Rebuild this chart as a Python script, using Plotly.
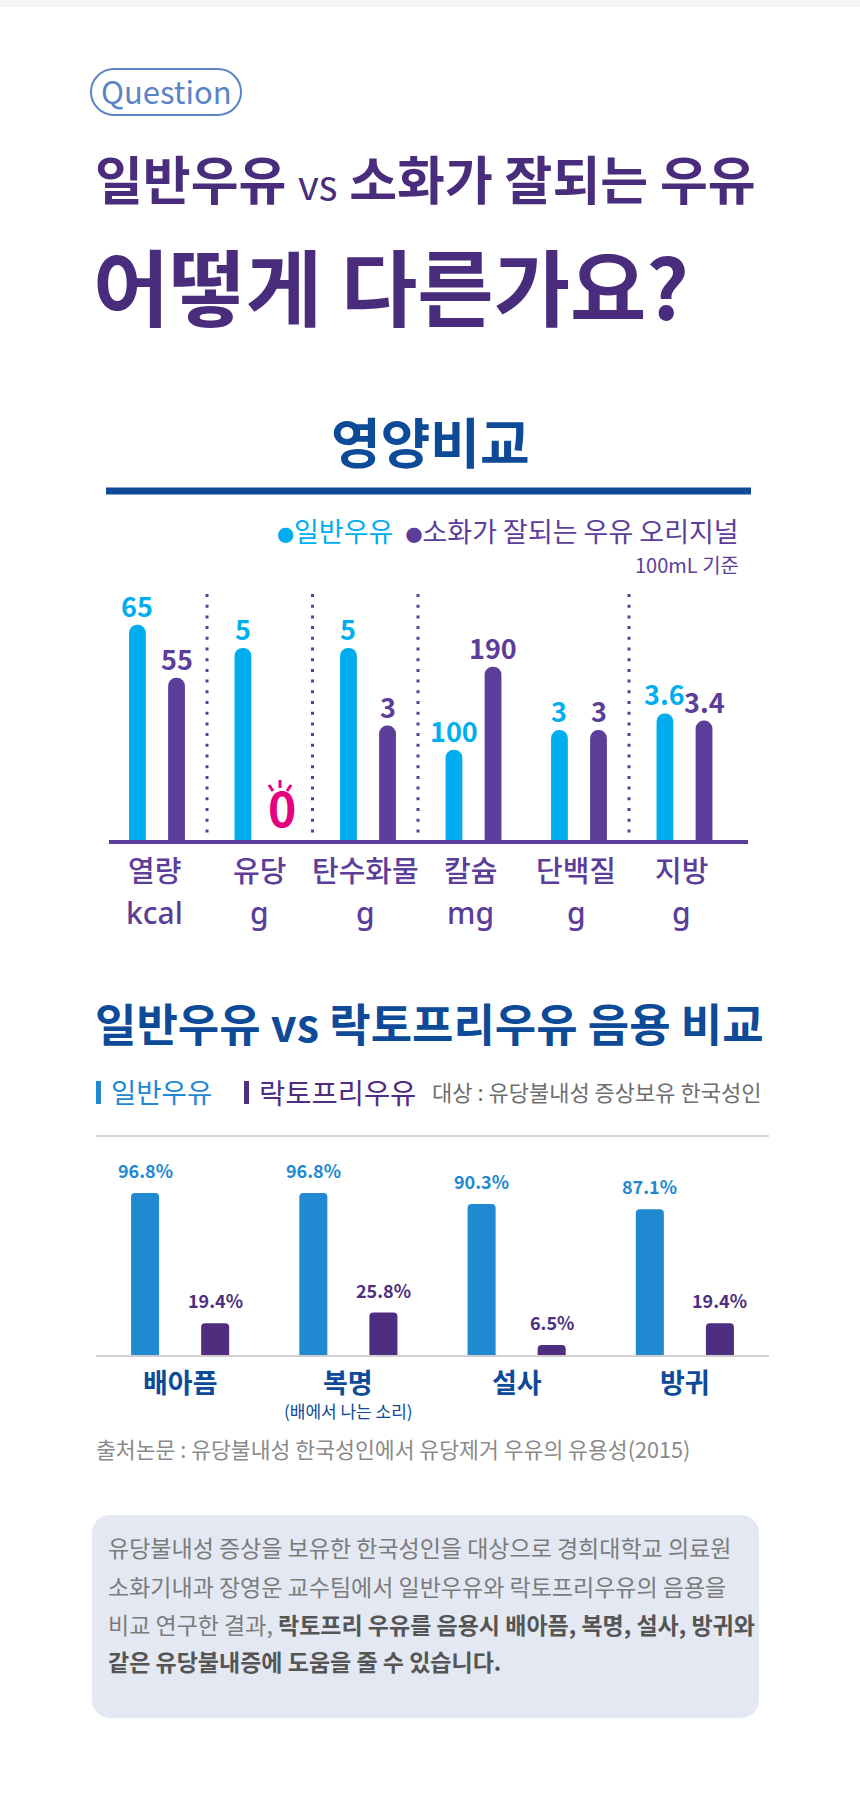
import plotly.graph_objects as go

W, H = 860, 1806
def X(px): return px / W
def Y(py): return 1 - py / H

KR = "Noto Sans CJK KR, Noto Sans, sans-serif"
LATIN = "Noto Sans, Noto Sans CJK KR, sans-serif"

# ---------------- data ----------------
nutrients = ["열량", "유당", "탄수화물", "칼슘", "단백질", "지방"]
units = ["kcal", "g", "g", "mg", "g", "g"]
series1 = ["일반우유", "소화가 잘되는 우유 오리지널"]
regular_milk = [65, 5, 5, 100, 3, 3.6]
easy_milk = [55, 0, 3, 190, 3, 3.4]
# per-nutrient value axis ranges (each nutrient has its own scale in the original)
c1_ranges = [[24, 71.2], [0, 6.44], [0, 6.44], [0, 271], [0, 6.7], [0, 7.0]]

symptoms = ["배아픔", "복명", "설사", "방귀"]
symptom_notes = ["", "(배에서 나는 소리)", "", ""]
series2 = ["일반우유", "락토프리우유"]
regular_pct = [96.8, 96.8, 90.3, 87.1]
lactose_free_pct = [19.4, 25.8, 6.5, 19.4]

# ---------------- colours ----------------
C1_BLUE = "#00aeef"
C1_PURPLE = "#5c3d99"
PINK = "#e5007e"
HEAD_PURPLE = "#4a2c7c"
NAVY = "#0d4a98"
C2_BLUE = "#2189d1"
C2_PURPLE = "#4f2d7f"

fig = go.Figure()
shapes = []
annotations = []

def note(text, x, y, size, color, xanchor="center", yanchor="middle", weight=None, **kw):
    f = dict(family=KR, size=size, color=color)
    if weight:
        f["weight"] = weight
    d = dict(text=text, x=x, y=y, xref="paper", yref="paper", xanchor=xanchor, yanchor=yanchor,
             showarrow=False, font=f)
    d.update(kw)
    annotations.append(d)

def rrect(x0, y0, x1, y1, r):
    k = 0.5523 * r
    pts = [
        ("M", [(x0 + r, y0)]),
        ("L", [(x1 - r, y0)]),
        ("C", [(x1 - r + k, y0), (x1, y0 + r - k), (x1, y0 + r)]),
        ("L", [(x1, y1 - r)]),
        ("C", [(x1, y1 - r + k), (x1 - r + k, y1), (x1 - r, y1)]),
        ("L", [(x0 + r, y1)]),
        ("C", [(x0 + r - k, y1), (x0, y1 - r + k), (x0, y1 - r)]),
        ("L", [(x0, y0 + r)]),
        ("C", [(x0, y0 + r - k), (x0 + r - k, y0), (x0 + r, y0)]),
    ]
    s = ""
    for cmd, ps in pts:
        s += cmd + " " + " ".join(f"{X(a):.5f},{Y(b):.5f}" for a, b in ps) + " "
    return s + "Z"

# top band
shapes.append(dict(type="rect", xref="paper", yref="paper", x0=0, x1=1, y0=Y(7), y1=1,
                   fillcolor="#f4f4f4", line_width=0, layer="below"))

# Question pill
shapes.append(dict(type="path", xref="paper", yref="paper", path=rrect(91, 69, 241, 115, 23),
                   line=dict(color="#5a84c6", width=2), fillcolor="white"))
note("Question", X(166), Y(91), 31, "#5a84c6")

# headlines
note("<b>일반우유</b> <span style='font-size:40px'>vs</span> <b>소화가 잘되는 우유</b>",
     X(93), Y(177), 52, HEAD_PURPLE, xanchor="left")
note("<b>어떻게 다른가요?</b>", X(91), Y(284), 83, HEAD_PURPLE, xanchor="left")

# section 1 title
note("<b>영양비교</b>", X(430), Y(440), 54, NAVY)
shapes.append(dict(type="line", xref="paper", yref="paper", x0=X(106), x1=X(751), y0=Y(491), y1=Y(491),
                   line=dict(color=NAVY, width=7)))

# legend 1
note((f"<span style='color:{C1_BLUE}'><span style='font-size:17px'>●</span>{series1[0]}</span>  "
      f"<span style='color:{C1_PURPLE}'><span style='font-size:17px'>●</span>{series1[1]}</span>"),
     X(741), Y(530), 27, C1_PURPLE, xanchor="right")
note("100mL 기준", X(741), Y(564), 20, C1_PURPLE, xanchor="right")

# ---------------- chart 1 (one small subplot per nutrient) ----------------
G1_LEFT, G1_STEP = 101.5, 105.5
BASE1, TOP1 = 842, 592
axes = {}
for i in range(6):
    xa = "xaxis" if i == 0 else f"xaxis{i+1}"
    ya = "yaxis" if i == 0 else f"yaxis{i+1}"
    xr = "x" if i == 0 else f"x{i+1}"
    yr = "y" if i == 0 else f"y{i+1}"
    x0 = G1_LEFT + G1_STEP * i
    axes[xa] = dict(domain=[X(x0), X(x0 + G1_STEP)], anchor=yr, range=[-0.92, 1.78],
                    visible=False, fixedrange=True, type="category")
    axes[ya] = dict(domain=[Y(BASE1), Y(TOP1)], anchor=xr, range=c1_ranges[i],
                    visible=False, fixedrange=True)
    vals = [regular_milk[i], easy_milk[i]]
    fig.add_trace(go.Bar(x=series1, y=vals, xaxis=xr, yaxis=yr, width=0.43,
                         marker=dict(color=[C1_BLUE, C1_PURPLE], cornerradius=8, line_width=0),
                         showlegend=False, hoverinfo="skip"))
    for j, v in enumerate(vals):
        if v == 0:
            annotations.append(dict(text="<b>0</b>", x=series1[j], y=v, xref=xr, yref=yr,
                                    yanchor="bottom", yshift=-1, showarrow=False,
                                    font=dict(family=KR, size=48, color=PINK)))
            # little sparks above the zero
            k = (BASE1 - TOP1) / (c1_ranges[i][1] - c1_ranges[i][0])
            for (dx0, dy0, dx1, dy1) in [(-13, 57, -9, 51), (-2, 62, -2, 54), (5, 51, 9, 57)]:
                shapes.append(dict(type="line", xref=xr, yref=yr,
                                   x0=j + dx0 / 39, x1=j + dx1 / 39, y0=dy0 / k, y1=dy1 / k,
                                   line=dict(color=PINK, width=3)))
        else:
            annotations.append(dict(text=f"<b>{v:g}</b>", x=series1[j], y=v, xref=xr, yref=yr,
                                    yanchor="bottom", yshift=-2, showarrow=False,
                                    font=dict(family=KR, size=27,
                                              color=C1_BLUE if j == 0 else C1_PURPLE)))
    annotations.append(dict(text=nutrients[i], x=0.5, y=Y(869),
                            xref=f"{xr} domain", yref="paper", xanchor="center",
                            yanchor="middle", showarrow=False,
                            font=dict(family=KR, size=29, color=C1_PURPLE, weight=500)))
    annotations.append(dict(text=units[i], x=0.5, y=Y(912),
                            xref=f"{xr} domain", yref="paper", xanchor="center",
                            yanchor="middle", showarrow=False,
                            font=dict(family=LATIN, size=30, color=C1_PURPLE, weight=500)))
    if i < 5 and i != 3:
        xs = x0 + G1_STEP
        shapes.append(dict(type="line", xref="paper", yref="paper", x0=X(xs), x1=X(xs),
                           y0=Y(594), y1=Y(836), line=dict(color=C1_PURPLE, width=3, dash="3px,7.7px")))

shapes.append(dict(type="line", xref="paper", yref="paper", x0=X(109), x1=X(748),
                   y0=Y(BASE1), y1=Y(BASE1), line=dict(color=C1_PURPLE, width=4), layer="above"))

# ---------------- section 2 header ----------------
note("<b>일반우유 vs 락토프리우유 음용 비교</b>", X(93), Y(1022), 45, NAVY, xanchor="left")
shapes.append(dict(type="rect", xref="paper", yref="paper", x0=X(96), x1=X(101), y0=Y(1104), y1=Y(1081),
                   fillcolor=C2_BLUE, line_width=0))
shapes.append(dict(type="rect", xref="paper", yref="paper", x0=X(244), x1=X(249), y0=Y(1104), y1=Y(1081),
                   fillcolor=C2_PURPLE, line_width=0))
note(series2[0], X(109), Y(1091), 27.5, C2_BLUE, xanchor="left")
note(series2[1], X(257), Y(1091), 28.5, C2_PURPLE, xanchor="left")
note("대상 : 유당불내성 증상보유 한국성인", X(430), Y(1091), 22, "#6e6e6e", xanchor="left")
shapes.append(dict(type="line", xref="paper", yref="paper", x0=X(96), x1=X(769), y0=Y(1136), y1=Y(1136),
                   line=dict(color="#d6d6d6", width=2)))

# ---------------- chart 2 ----------------
BASE2 = 1356
PX_PER_PCT = 1.684
TOP2 = 1156
BARGAP = 0.167
axes["xaxis7"] = dict(domain=[X(96), X(769)], anchor="y7", visible=False, fixedrange=True,
                      type="category", range=[-0.5, 3.5])
axes["yaxis7"] = dict(domain=[Y(BASE2), Y(TOP2)], anchor="x7", visible=False, fixedrange=True,
                      range=[0, (BASE2 - TOP2) / PX_PER_PCT])
for name, vals, col in [(series2[0], regular_pct, C2_BLUE), (series2[1], lactose_free_pct, C2_PURPLE)]:
    fig.add_trace(go.Bar(name=name, x=symptoms, y=vals, xaxis="x7", yaxis="y7",
                         marker=dict(color=col, cornerradius=4, line_width=0),
                         showlegend=False, hoverinfo="skip"))
px_per_cat = (769 - 96) / len(symptoms)
off = (1 - BARGAP) / 4 * px_per_cat
for j, (vals, col) in enumerate([(regular_pct, C2_BLUE), (lactose_free_pct, C2_PURPLE)]):
    for c, v in zip(symptoms, vals):
        annotations.append(dict(text=f"{v:.1f}%", x=c, y=v, xref="x7", yref="y7", yanchor="bottom",
                                xshift=-off if j == 0 else off, yshift=8, showarrow=False,
                                font=dict(family=KR, size=18, color=col, weight=600)))
for c, sub in zip(symptoms, symptom_notes):
    annotations.append(dict(text=f"<b>{c}</b>", x=c, y=Y(1381), xref="x7", yref="paper",
                            xanchor="center", yanchor="middle",
                            showarrow=False, font=dict(family=KR, size=27, color=NAVY)))
    if sub:
        annotations.append(dict(text=sub, x=c, y=Y(1410), xref="x7", yref="paper",
                                xanchor="center", yanchor="middle",
                                showarrow=False, font=dict(family=KR, size=17, color=NAVY)))
shapes.append(dict(type="line", xref="paper", yref="paper", x0=X(96), x1=X(769), y0=Y(BASE2), y1=Y(BASE2),
                   line=dict(color="#cfcfcf", width=2), layer="above"))

note("출처논문 : 유당불내성 한국성인에서 유당제거 우유의 유용성(2015)", X(94), Y(1448), 21.6, "#8a8a8a",
     xanchor="left")

# ---------------- summary box ----------------
shapes.append(dict(type="path", xref="paper", yref="paper", path=rrect(92, 1515, 759, 1718, 18),
                   line_width=0, fillcolor="#e3e8f3", layer="below"))
box_lines = [
    "유당불내성 증상을 보유한 한국성인을 대상으로 경희대학교 의료원",
    "소화기내과 장영운 교수팀에서 일반우유와 락토프리우유의 음용을",
    "비교 연구한 결과, <b><span style='color:#555555'>락토프리 우유를 음용시 배아픔, 복명, 설사, 방귀와</span></b>",
    "<b><span style='color:#555555'>같은 유당불내증에 도움을 줄 수 있습니다.</span></b>",
]
for ln, yc in zip(box_lines, [1547, 1586, 1624, 1661]):
    note(ln, X(106), Y(yc), 23, "#7b7b7b", xanchor="left")

fig.update_layout(
    width=W, height=H, autosize=False,
    margin=dict(l=0, r=0, t=0, b=0, pad=0),
    paper_bgcolor="white", plot_bgcolor="rgba(0,0,0,0)",
    barmode="group", bargap=BARGAP, bargroupgap=0.6,
    shapes=shapes, annotations=annotations,
    font=dict(family=KR),
    **axes,
)
fig.write_html("out.html", config={"displayModeBar": False},
               post_script="document.body.style.margin='0';document.body.style.overflow='hidden';")
